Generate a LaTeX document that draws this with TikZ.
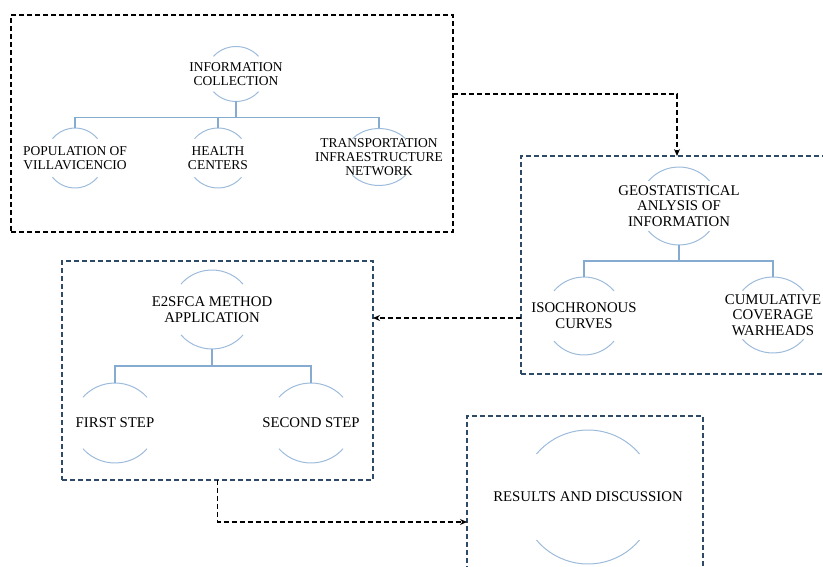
\documentclass[tikz,border=0pt]{standalone}
\usepackage{fontspec}
\setmainfont{Liberation Serif}
\usetikzlibrary{arrows.meta,calc}
\definecolor{boxblue}{HTML}{2E4A66}
\definecolor{arcblue}{HTML}{9DBBDB}
\definecolor{treeblue}{HTML}{86ABD0}
\newcommand{\twoarcs}[3]{%
  \draw[arcline] ($(#1.center)+(40:#2 and #3)$) arc[start angle=40,end angle=140,x radius=#2,y radius=#3];
  \draw[arcline] ($(#1.center)+(220:#2 and #3)$) arc[start angle=220,end angle=320,x radius=#2,y radius=#3];}
\tikzset{
  boxa/.style={draw=black,line width=1.5pt,dash pattern=on 5pt off 3pt,inner sep=0pt,outer sep=0pt},
  boxb/.style={draw=boxblue,line width=1.5pt,dash pattern=on 5pt off 3pt,inner sep=0pt,outer sep=0pt},
  conn/.style={draw=black,line width=1.5pt,dash pattern=on 5pt off 3pt,-{Stealth[length=7pt,width=6pt]}},
  arcline/.style={draw=arcblue,line width=1pt},
  tree/.style={draw=treeblue,line width=1.1pt},
  lblsmall/.style={align=center,inner sep=0pt,outer sep=0pt,font=\fontsize{13.5}{14.2}\selectfont},
  lbl/.style={align=center,inner sep=0pt,outer sep=0pt,font=\fontsize{14.8}{15.6}\selectfont},
}
\begin{document}
\begin{tikzpicture}[x=1pt,y=1pt]
\clip (0,0) rectangle (823,-567);
% boxes
\node[boxa,minimum width=442pt,minimum height=217pt] (b1) at (232,-123.5) {};
\node[boxb,minimum width=312pt,minimum height=218pt] (b2) at (677,-265) {};
\node[boxb,minimum width=311pt,minimum height=219pt] (b3) at (217.5,-370.5) {};
\node[boxb,minimum width=236pt,minimum height=162pt] (b4) at (585,-497) {};
% box 1 tree
\node[lblsmall,minimum height=55pt] (ic) at (236,-74) {INFORMATION\\COLLECTION};
\node[lblsmall,minimum height=60pt] (pop) at (75,-158) {POPULATION OF\\VILLAVICENCIO};
\node[lblsmall,minimum height=60pt] (hc) at (218,-158) {HEALTH\\CENTERS};
\node[lblsmall,minimum height=57pt] (tr) at (379,-157) {TRANSPORTATION\\INFRAESTRUCTURE\\NETWORK};
\twoarcs{ic}{29.4}{27.5}
\twoarcs{pop}{29.4}{30}
\twoarcs{hc}{30.7}{30}
\twoarcs{tr}{34.6}{28.5}
\coordinate (j1) at ($(ic.south)+(0,-16)$);
\draw[tree] (ic.south) -- (j1);
\draw[tree] (pop.north) |- (j1);
\draw[tree] (hc.north) |- (j1);
\draw[tree] (tr.north) |- (j1);
% box 2 tree
\node[lbl,minimum height=78pt] (geo) at (679,-206) {GEOSTATISTICAL\\ANLYSIS OF\\INFORMATION};
\node[lbl,minimum height=78pt] (iso) at (584,-316) {ISOCHRONOUS\\CURVES};
\node[lbl,minimum height=76pt] (cum) at (773,-315) {CUMULATIVE\\COVERAGE\\WARHEADS};
\twoarcs{geo}{39.8}{39}
\twoarcs{iso}{39.2}{39}
\twoarcs{cum}{39.8}{38}
\coordinate (j2) at ($(geo.south)+(0,-16)$);
\draw[tree] (geo.south) -- (j2);
\draw[tree] (iso.north) |- (j2);
\draw[tree] (cum.north) |- (j2);
% box 3 tree
\node[lbl,minimum height=79pt] (e2) at (212,-309.5) {E2SFCA METHOD\\APPLICATION};
\node[lbl,minimum height=80pt] (fs) at (115,-423) {FIRST STEP};
\node[lbl,minimum height=80pt] (ss) at (311,-423) {SECOND STEP};
\twoarcs{e2}{40.5}{39.5}
\twoarcs{fs}{41.8}{40}
\twoarcs{ss}{41.8}{40}
\coordinate (j3) at ($(e2.south)+(0,-17)$);
\draw[tree] (e2.south) -- (j3);
\draw[tree] (fs.north) |- (j3);
\draw[tree] (ss.north) |- (j3);
% box 4
\node[lbl,minimum height=134pt] (res) at (588,-497) {RESULTS AND DISCUSSION};
\twoarcs{res}{67.2}{67}
% connectors
\draw[conn] ([yshift=29.5pt]b1.east) -| (b2.north);
\draw[conn] ([yshift=-53pt]b2.west) -- ([yshift=-53pt]b2.west -| b3.east);
\draw[conn] (b3.south) |- ([yshift=-25pt]b4.west);
\end{tikzpicture}
\end{document}
